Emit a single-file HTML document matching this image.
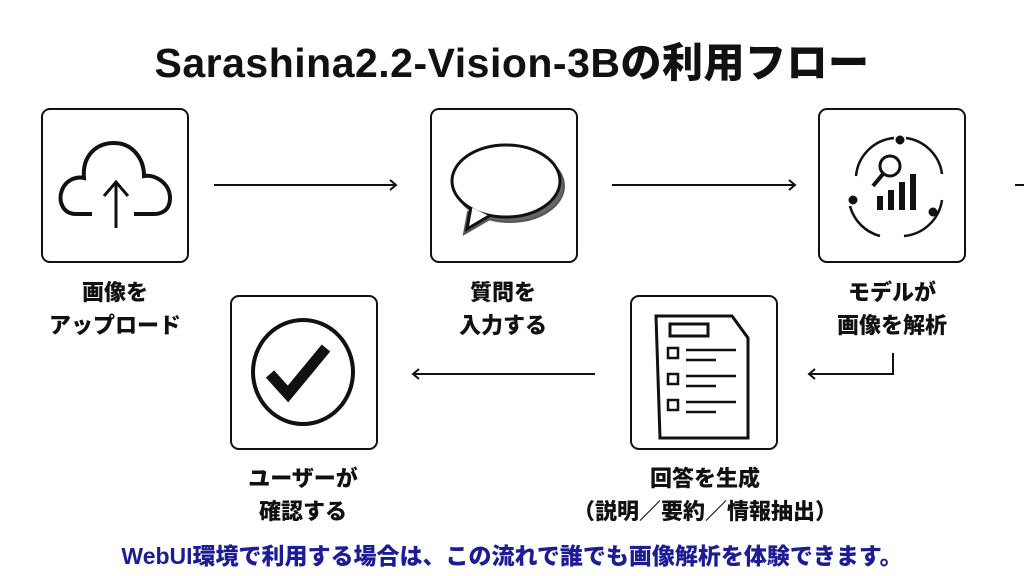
<!DOCTYPE html>
<html><head><meta charset="utf-8"><style>
body{margin:0;width:1024px;height:576px;background:#fff;position:relative;overflow:hidden;font-family:"Liberation Sans","Noto Sans CJK JP",sans-serif;}
.t{position:absolute;left:0;width:1024px;text-align:center;font-weight:900;}
.box{position:absolute;border:2px solid #111;border-radius:9px;box-sizing:border-box;}
.lab{position:absolute;width:240px;text-align:center;font-weight:900;font-size:22px;line-height:33px;color:#111;}
</style></head><body>
<div class="t" style="top:29px;font-size:41px;color:#111;letter-spacing:0.5px;">Sarashina2.2-Vision-3Bの利用フロー</div>
<div class="box" style="left:41px;top:108px;width:148px;height:155px"></div>
<div class="box" style="left:430px;top:108px;width:148px;height:155px"></div>
<div class="box" style="left:818px;top:108px;width:148px;height:155px"></div>
<div class="box" style="left:230px;top:295px;width:148px;height:155px"></div>
<div class="box" style="left:630px;top:295px;width:148px;height:155px"></div>
<svg width="1024" height="576" style="position:absolute;left:0;top:0" fill="none" stroke="#111" stroke-width="2">
<path d="M214 185H396M390 180l6 5-6 5"/>
<path d="M612 185H795M789 180l6 5-6 5"/>
<path d="M1015 185H1024"/>
<path d="M595 374H413M419 369l-6 5 6 5"/>
<path d="M893 353V374H809M815 369l-6 5 6 5"/>
<!-- cloud -->
<path d="M92 214H76C62 214 58 200 62 190C66 180 76 176 84 178C82 156 96 143 114 143C132 143 144 158 144 176C156 174 170 184 170 198C170 210 162 214 154 214H134" stroke-width="4"/>
<path d="M116 228V182M104 196l12-14 12 14" stroke-width="3"/>
<!-- bubble -->
<ellipse cx="510" cy="186" rx="54" ry="36" fill="#666" stroke="#555"/>
<path d="M468 212l-4 22 24-14z" fill="#666" stroke="#555"/>
<ellipse cx="506" cy="181" rx="54" ry="36" fill="#fff" stroke-width="3"/>
<path d="M471 207l-4 22 22-13" fill="#fff" stroke-width="3"/>
<!-- analysis -->
<path d="M856 176a42 42 0 0 1 38-38M906 138a42 42 0 0 1 36 36M942 200a42 42 0 0 1-38 36M880 236a42 42 0 0 1-30-30" stroke-width="2.5"/>
<circle cx="900" cy="140" r="3.5" fill="#111"/><circle cx="853" cy="200" r="3.5" fill="#111"/><circle cx="933" cy="212" r="3.5" fill="#111"/>
<circle cx="890" cy="166" r="10" stroke-width="3"/><path d="M883 174l-10 12" stroke-width="4"/>
<path d="M880 196v14M891 190v20M902 182v28M913 174v36" stroke-width="6"/>
<!-- doc -->
<path d="M656 316H732L748 338V438H660z" stroke-width="3"/>
<rect x="670" y="324" width="38" height="12" stroke-width="3"/>
<path d="M668 348h10v10h-10zM668 374h10v10h-10zM668 400h10v10h-10z" stroke-width="2.5"/>
<path d="M686 350h50M686 360h30M686 376h50M686 386h30M686 402h50M686 412h30" stroke-width="2.5"/>
<!-- check -->
<ellipse cx="303" cy="372" rx="50" ry="52" stroke-width="4"/>
<path d="M270 374l18 20 38-46" stroke-width="11"/>
</svg>
<div class="lab" style="left:-5px;top:276px">画像を<br>アップロード</div>
<div class="lab" style="left:383px;top:276px">質問を<br>入力する</div>
<div class="lab" style="left:772px;top:276px">モデルが<br>画像を解析</div>
<div class="lab" style="left:183px;top:462px">ユーザーが<br>確認する</div>
<div class="lab" style="left:555px;top:462px;width:300px">回答を生成<br>（説明／要約／情報抽出）</div>
<div class="t" style="top:537px;font-size:23px;color:#1c1c96;font-weight:900;">WebUI環境で利用する場合は、この流れで誰でも画像解析を体験できます。</div>
</body></html>
